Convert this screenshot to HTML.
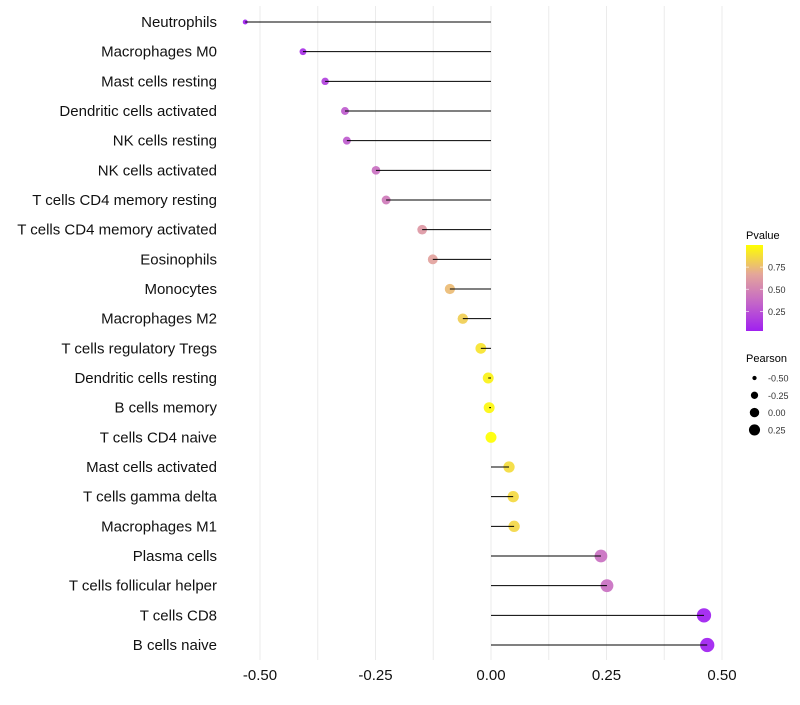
<!DOCTYPE html>
<html><head><meta charset="utf-8"><style>
body{margin:0;background:#fff;}
svg text{font-family:"Liberation Sans",sans-serif;}
</style></head><body>
<svg id="chart" width="800" height="700" xmlns="http://www.w3.org/2000/svg">
<g id="grid"></g>
<g id="dots"></g>
<g id="marks"></g>
<g id="ylab"></g>
<g id="xlab"></g>
<g id="legend">
<defs><linearGradient id="pg" x1="0" y1="1" x2="0" y2="0">
<stop offset="0" stop-color="#a020f0"/><stop offset="0.33" stop-color="#c466c8"/><stop offset="0.66" stop-color="#e4a69a"/><stop offset="1" stop-color="#ffff00"/></linearGradient></defs>
<text x="746" y="239" font-size="11" fill="#000">Pvalue</text>
<rect x="746" y="245" width="17" height="86" fill="url(#pg)"/>
<text x="746" y="362" font-size="11" fill="#000">Pearson</text>
</g>
</svg>
<script>
const cats=["Neutrophils","Macrophages M0","Mast cells resting","Dendritic cells activated","NK cells resting","NK cells activated","T cells CD4 memory resting","T cells CD4 memory activated","Eosinophils","Monocytes","Macrophages M2","T cells regulatory  Tregs ","Dendritic cells resting","B cells memory","T cells CD4 naive","Mast cells activated","T cells gamma delta","Macrophages M1","Plasma cells","T cells follicular helper","T cells CD8","B cells naive"];
const pearson=[-0.532,-0.407,-0.359,-0.316,-0.312,-0.249,-0.227,-0.149,-0.126,-0.089,-0.061,-0.022,-0.006,-0.004,0.0,0.039,0.048,0.050,0.238,0.251,0.461,0.468];
const pvalue=[0.02,0.1,0.18,0.3,0.3,0.4,0.45,0.6,0.65,0.75,0.82,0.9,0.95,0.97,1.0,0.87,0.86,0.85,0.4,0.4,0.03,0.03];
const xticks=[-0.5,-0.25,0,0.25,0.5];
const xtickLabels=["-0.50","-0.25","0.00","0.25","0.50"];
const legTicks=[0.75,0.5,0.25];
const legTickLabels=["0.75","0.50","0.25"];
const sizeVals=[-0.5,-0.25,0,0.25];
const sizeLabels=["-0.50","-0.25","0.00","0.25"];
const NS="http://www.w3.org/2000/svg";
const X=v=>491+v*462;
const Y=i=>22+i*(623/21);
const R=p=>Math.sqrt(Math.max(3,30+45*p));
const RL=p=>Math.sqrt(Math.max(3,22+35*p));
const PY=p=>331-(p-0.03)/(0.97)*86;
const stops=[[0,[160,32,240]],[0.33,[196,102,200]],[0.66,[228,166,154]],[1,[255,255,0]]];
function col(p){p=Math.max(0.03,Math.min(1,p));const t=(p-0.03)/0.97;
for(let i=1;i<stops.length;i++){if(t<=stops[i][0]){const a=stops[i-1],b=stops[i];const f=(t-a[0])/(b[0]-a[0]);
return "rgb("+a[1].map((c,k)=>Math.round(c+(b[1][k]-c)*f)).join(",")+")";}}return "rgb(255,255,0)";}
function mk(t,a,parent){const e=document.createElementNS(NS,t);for(const k in a)e.setAttribute(k,a[k]);parent.appendChild(e);return e;}
const grid=document.getElementById('grid');
for(let v=-0.5;v<=0.5001;v+=0.125){const l=mk('line',{x1:X(v),x2:X(v),y1:6,y2:660,stroke:'#ebebeb','stroke-width':1},grid);

}
const marks=document.getElementById('marks'),dots=document.getElementById('dots'),ylab=document.getElementById('ylab'),xlab=document.getElementById('xlab');
cats.forEach((c,i)=>{
const d=mk('circle',{cx:X(pearson[i]),cy:Y(i),r:R(pearson[i]),fill:col(pvalue[i]),'fill-opacity':0.92},dots);


const l=mk('line',{x1:X(0),x2:X(pearson[i]),y1:Y(i),y2:Y(i),stroke:'#000','stroke-width':1},marks);


const t=mk('text',{x:217,y:Y(i)+5,'text-anchor':'end','font-size':15,fill:'#111'},ylab);t.textContent=c;


});
xticks.forEach((v,i)=>{const t=mk('text',{x:X(v),y:680,'text-anchor':'middle','font-size':15,fill:'#111'},xlab);t.textContent=xtickLabels[i];

});
const leg=document.getElementById('legend');
legTicks.forEach((v,i)=>{
const a=mk('line',{x1:746,x2:749,y1:PY(v),y2:PY(v),stroke:'#fff','stroke-opacity':0.6},leg);


const b=mk('line',{x1:760,x2:763,y1:PY(v),y2:PY(v),stroke:'#fff','stroke-opacity':0.6},leg);


const t=mk('text',{x:768,y:PY(v)+3.5,'font-size':9,fill:'#333'},leg);t.textContent=legTickLabels[i];

});
sizeVals.forEach((v,i)=>{const y=378+i*17.3;
const c=mk('circle',{cx:754.5,cy:y,r:RL(v),fill:'#000'},leg);


const t=mk('text',{x:768,y:y+3.5,'font-size':9,fill:'#333'},leg);t.textContent=sizeLabels[i];

});
</script>
</body></html>
